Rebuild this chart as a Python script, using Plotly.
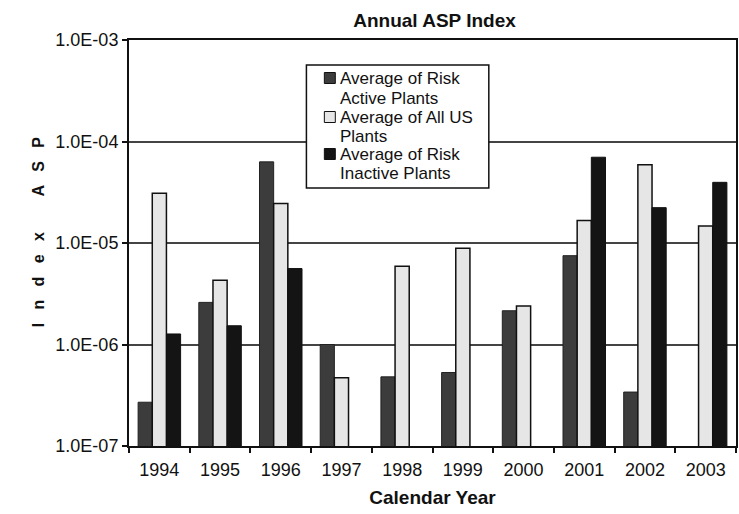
import plotly.graph_objects as go

years = ["1994", "1995", "1996", "1997", "1998", "1999", "2000", "2001", "2002", "2003"]
risk_active = [2.7e-7, 2.6e-6, 6.3e-5, 1.0e-6, 4.8e-7, 5.3e-7, 2.15e-6, 7.5e-6, 3.4e-7, None]
all_us = [3.1e-5, 4.3e-6, 2.45e-5, 4.7e-7, 5.9e-6, 8.9e-6, 2.4e-6, 1.67e-5, 5.9e-5, 1.47e-5]
risk_inactive = [1.27e-6, 1.53e-6, 5.6e-6, None, None, None, None, 7.0e-5, 2.23e-5, 3.96e-5]
y_ticks = [1e-7, 1e-6, 1e-5, 1e-4, 1e-3]
y_tick_text = ["1.0E-07", "1.0E-06", "1.0E-05", "1.0E-04", "1.0E-03"]

series_names = [
    ["Average of Risk", "Active Plants"],
    ["Average of All US", "Plants"],
    ["Average of Risk", "Inactive Plants"],
]
series_fill = ["#3c3c3c", "#e6e6e6", "#141414"]
series_edge = ["#222222", "#111111", "#111111"]
series_edge_w = [1, 1.5, 1]

FONT = "Liberation Sans, Arial, sans-serif"

# plot area in pixels: x 129..738, y 40..446
L, R, T, B = 129, 738, 40, 446


def px(x):
    return (x - L) / (R - L)


def py(y):
    return (B - y) / (B - T)


fig = go.Figure()
for name, vals, fill, edge, ew in zip(series_names, [risk_active, all_us, risk_inactive],
                                      series_fill, series_edge, series_edge_w):
    fig.add_trace(go.Bar(
        x=years, y=vals, name=" ".join(name), showlegend=False,
        marker=dict(color=fill, line=dict(color=edge, width=ew)),
    ))

# boxed legend: one swatch per series, two text lines per entry
shapes = [dict(type="rect", xref="paper", yref="paper",
               x0=px(307), x1=px(490), y0=py(188), y1=py(65),
               fillcolor="white", line=dict(color="#111111", width=1.5), layer="above")]
annotations = []
line_y = [78, 98, 117, 136, 154, 173]
for i, (name, fill, edge) in enumerate(zip(series_names, series_fill, series_edge)):
    y1, y2 = line_y[2 * i], line_y[2 * i + 1]
    shapes.append(dict(type="rect", xref="paper", yref="paper",
                       x0=px(325), x1=px(336), y0=py(y1 + 5.5), y1=py(y1 - 5.5),
                       fillcolor=fill, line=dict(color="#111111", width=1), layer="above"))
    for txt, yy in zip(name, (y1, y2)):
        annotations.append(dict(text=txt, xref="paper", yref="paper",
                                x=px(339), y=py(yy), xanchor="left", yanchor="middle",
                                showarrow=False, font=dict(size=17, color="#111111")))

nb = "\u00a0"
ytitle = (nb * 3).join("Index") + nb * 8 + (nb * 3).join("ASP")
annotations.append(dict(
    text="<b>" + ytitle + "</b>", textangle=-90,
    xref="paper", yref="paper", x=px(38), y=py(232),
    xanchor="center", yanchor="middle", showarrow=False,
    font=dict(size=16, color="#111111"),
))

fig.update_layout(
    width=739, height=514,
    margin=dict(l=L, r=739 - R, t=T, b=514 - B),
    paper_bgcolor="white", plot_bgcolor="white",
    barmode="group", bargap=0.3, bargroupgap=0,
    font=dict(family=FONT, color="#111111", size=15),
    showlegend=False,
    title=dict(text="<b>Annual ASP Index</b>", x=0.588, xanchor="center",
               y=0.96, yanchor="middle", font=dict(size=19, color="#111111")),
    xaxis=dict(
        showline=True, linecolor="#111111", linewidth=2, mirror=True,
        ticks="outside", ticklen=5, tickcolor="#111111", tickwidth=1.5,
        tickson="boundaries", tickfont=dict(size=18), ticklabelstandoff=6,
        title=dict(text="<b>Calendar Year</b>", font=dict(size=19), standoff=12),
    ),
    yaxis=dict(
        type="log", range=[-7, -3],
        tickvals=y_ticks, ticktext=y_tick_text,
        showline=True, linecolor="#111111", linewidth=2, mirror=True,
        ticks="outside", ticklen=5, tickcolor="#111111", tickwidth=1.5,
        showgrid=True, gridcolor="#444444", gridwidth=1.5,
        tickfont=dict(size=18), title=None,
    ),
    shapes=shapes,
    annotations=annotations,
)

fig.write_html("out.html")
